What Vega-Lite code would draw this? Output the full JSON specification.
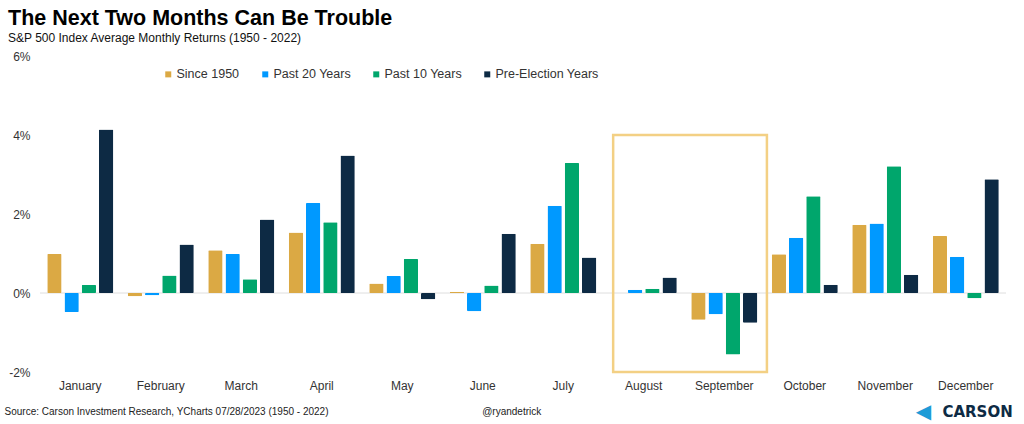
{
  "$schema": "https://vega.github.io/schema/vega-lite/v6.json",
  "width": 966,
  "height": 316,
  "autosize": {"type": "none"},
  "padding": {"left": 40, "top": 56, "right": 18, "bottom": 52},
  "background": "white",
  "title": {
    "text": "The Next Two Months Can Be Trouble",
    "subtitle": "S&P 500 Index Average Monthly Returns (1950 - 2022)",
    "anchor": "start",
    "frame": "group",
    "dx": -32,
    "font": "Liberation Sans",
    "fontSize": 21.5,
    "fontWeight": "bold",
    "color": "#000000",
    "subtitleFont": "Liberation Sans",
    "subtitleFontSize": 12,
    "subtitleColor": "#111111",
    "subtitlePadding": 4,
    "offset": 6
  },
  "datasets": {
    "returns": [
      {"month": "January", "series": "Since 1950", "value": 0.99},
      {"month": "January", "series": "Past 20 Years", "value": -0.48},
      {"month": "January", "series": "Past 10 Years", "value": 0.20},
      {"month": "January", "series": "Pre-Election Years", "value": 4.14},
      {"month": "February", "series": "Since 1950", "value": -0.08},
      {"month": "February", "series": "Past 20 Years", "value": -0.06},
      {"month": "February", "series": "Past 10 Years", "value": 0.44},
      {"month": "February", "series": "Pre-Election Years", "value": 1.23},
      {"month": "March", "series": "Since 1950", "value": 1.08},
      {"month": "March", "series": "Past 20 Years", "value": 0.99},
      {"month": "March", "series": "Past 10 Years", "value": 0.35},
      {"month": "March", "series": "Pre-Election Years", "value": 1.86},
      {"month": "April", "series": "Since 1950", "value": 1.53},
      {"month": "April", "series": "Past 20 Years", "value": 2.28},
      {"month": "April", "series": "Past 10 Years", "value": 1.79},
      {"month": "April", "series": "Pre-Election Years", "value": 3.48},
      {"month": "May", "series": "Since 1950", "value": 0.24},
      {"month": "May", "series": "Past 20 Years", "value": 0.43},
      {"month": "May", "series": "Past 10 Years", "value": 0.86},
      {"month": "May", "series": "Pre-Election Years", "value": -0.16},
      {"month": "June", "series": "Since 1950", "value": 0.03},
      {"month": "June", "series": "Past 20 Years", "value": -0.46},
      {"month": "June", "series": "Past 10 Years", "value": 0.19},
      {"month": "June", "series": "Pre-Election Years", "value": 1.50},
      {"month": "July", "series": "Since 1950", "value": 1.25},
      {"month": "July", "series": "Past 20 Years", "value": 2.21},
      {"month": "July", "series": "Past 10 Years", "value": 3.29},
      {"month": "July", "series": "Pre-Election Years", "value": 0.90},
      {"month": "August", "series": "Since 1950", "value": 0.0},
      {"month": "August", "series": "Past 20 Years", "value": 0.08},
      {"month": "August", "series": "Past 10 Years", "value": 0.11},
      {"month": "August", "series": "Pre-Election Years", "value": 0.39},
      {"month": "September", "series": "Since 1950", "value": -0.68},
      {"month": "September", "series": "Past 20 Years", "value": -0.54},
      {"month": "September", "series": "Past 10 Years", "value": -1.56},
      {"month": "September", "series": "Pre-Election Years", "value": -0.75},
      {"month": "October", "series": "Since 1950", "value": 0.98},
      {"month": "October", "series": "Past 20 Years", "value": 1.40},
      {"month": "October", "series": "Past 10 Years", "value": 2.45},
      {"month": "October", "series": "Pre-Election Years", "value": 0.21},
      {"month": "November", "series": "Since 1950", "value": 1.73},
      {"month": "November", "series": "Past 20 Years", "value": 1.76},
      {"month": "November", "series": "Past 10 Years", "value": 3.21},
      {"month": "November", "series": "Pre-Election Years", "value": 0.46},
      {"month": "December", "series": "Since 1950", "value": 1.44},
      {"month": "December", "series": "Past 20 Years", "value": 0.92},
      {"month": "December", "series": "Past 10 Years", "value": -0.13},
      {"month": "December", "series": "Pre-Election Years", "value": 2.88}
    ],
    "zero": [{"value": 0}],
    "box": [{"start": 7.12, "end": 9.03, "low": -2, "high": 4}],
    "source": [
      {"label": "Source: Carson Investment Research, YCharts 07/28/2023 (1950 - 2022)", "pos": -0.44, "level": -3.0}
    ],
    "handle": [
      {"label": "@ryandetrick", "pos": 5.86, "level": -3.02}
    ],
    "logo": [
      {"label": "CARSON", "pos": 11.21, "level": -3.0}
    ],
    "logomark": [
      {"label": "◀", "pos": 10.88, "level": -3.0}
    ]
  },
  "layer": [
    {
      "layer": [
        {
          "data": {"name": "zero"},
          "mark": {"type": "rule", "color": "#dedede", "strokeWidth": 1},
          "encoding": {
            "y": {"field": "value", "type": "quantitative", "scale": {"domain": [-2, 6]}}
          }
        },
        {
          "data": {"name": "returns"},
          "mark": {"type": "bar", "cornerRadius": 1},
          "encoding": {
            "x": {
              "field": "month",
              "type": "nominal",
              "sort": null,
              "scale": {"paddingInner": 0.18, "paddingOuter": 0.09},
              "axis": {
                "title": null,
                "domain": false,
                "ticks": false,
                "labelAngle": 0,
                "labelFont": "Liberation Sans",
                "labelFontSize": 12,
                "labelColor": "#333333",
                "labelPadding": 8
              }
            },
            "xOffset": {
              "field": "series",
              "type": "nominal",
              "sort": ["Since 1950", "Past 20 Years", "Past 10 Years", "Pre-Election Years"],
              "scale": {"paddingInner": 0.17, "paddingOuter": 0}
            },
            "y": {
              "field": "value",
              "type": "quantitative",
              "scale": {"domain": [-2, 6], "nice": false},
              "axis": {
                "title": null,
                "values": [-2, 0, 2, 4, 6],
                "labelExpr": "datum.value + '%'",
                "grid": false,
                "domain": false,
                "ticks": false,
                "labelFont": "Liberation Sans",
                "labelFontSize": 12,
                "labelColor": "#333333",
                "labelPadding": 10
              }
            },
            "color": {
              "field": "series",
              "type": "nominal",
              "sort": ["Since 1950", "Past 20 Years", "Past 10 Years", "Pre-Election Years"],
              "scale": {
                "domain": ["Since 1950", "Past 20 Years", "Past 10 Years", "Pre-Election Years"],
                "range": ["#DBA944", "#0099FF", "#00A66C", "#0D2A44"]
              },
              "legend": {
                "title": null,
                "orient": "none",
                "direction": "horizontal",
                "legendX": 122,
                "legendY": 12,
                "symbolType": "square",
                "symbolSize": 36,
                "symbolStrokeWidth": 0,
                "labelFont": "Liberation Sans",
                "labelFontSize": 12.5,
                "labelColor": "#333333",
                "labelOffset": 2,
                "columnPadding": 19
              }
            }
          }
        }
      ]
    },
    {
      "layer": [
        {
          "data": {"name": "box"},
          "mark": {"type": "rect", "fill": null, "filled": false, "stroke": "#F3D084", "strokeWidth": 2.5},
          "encoding": {
            "x": {"field": "start", "type": "quantitative", "scale": {"domain": [0, 12], "nice": false, "zero": false}, "axis": null},
            "x2": {"field": "end"},
            "y": {"field": "low", "type": "quantitative"},
            "y2": {"field": "high"}
          }
        },
        {
          "data": {"name": "source"},
          "mark": {"type": "text", "font": "Liberation Sans", "fontSize": 10, "color": "#222222", "baseline": "middle", "align": "left"},
          "encoding": {
            "x": {"field": "pos", "type": "quantitative"},
            "y": {"field": "level", "type": "quantitative"},
            "text": {"field": "label"}
          }
        },
        {
          "data": {"name": "handle"},
          "mark": {"type": "text", "font": "Liberation Sans", "fontSize": 10, "color": "#222222", "baseline": "middle", "align": "center"},
          "encoding": {
            "x": {"field": "pos", "type": "quantitative"},
            "y": {"field": "level", "type": "quantitative"},
            "text": {"field": "label"}
          }
        },
        {
          "data": {"name": "logo"},
          "mark": {"type": "text", "font": "DejaVu Sans", "fontWeight": "bold", "fontSize": 15, "color": "#0D2A44", "baseline": "middle", "align": "left"},
          "encoding": {
            "x": {"field": "pos", "type": "quantitative"},
            "y": {"field": "level", "type": "quantitative"},
            "text": {"field": "label"}
          }
        },
        {
          "data": {"name": "logomark"},
          "mark": {"type": "text", "font": "DejaVu Sans", "fontSize": 20, "color": "#1E9BD7", "baseline": "middle", "align": "left"},
          "encoding": {
            "x": {"field": "pos", "type": "quantitative"},
            "y": {"field": "level", "type": "quantitative"},
            "text": {"field": "label"}
          }
        }
      ]
    }
  ],
  "resolve": {"scale": {"x": "independent", "color": "independent"}},
  "config": {
    "view": {"stroke": null},
    "font": "Liberation Sans"
  }
}
